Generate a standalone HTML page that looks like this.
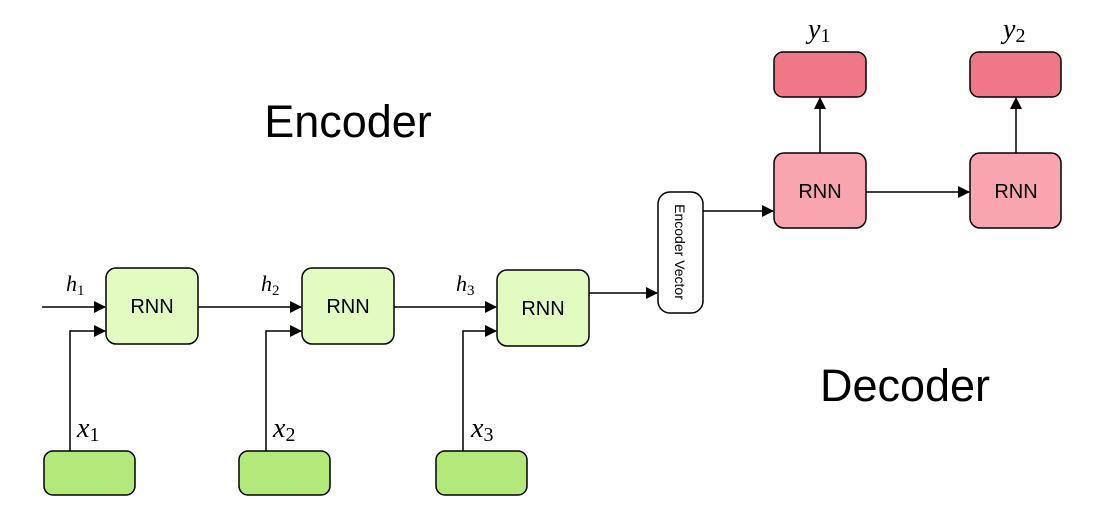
<!DOCTYPE html>
<html><head><meta charset="utf-8"><style>
html,body{margin:0;padding:0;background:#fff;}
svg{display:block;}
.l{stroke:#000;stroke-width:1.5;fill:none;}
.t{font-family:"Liberation Sans",sans-serif;}
.m{font-family:"Liberation Serif",serif;font-style:italic;}
</style></head><body>
<svg width="1101" height="510" viewBox="0 0 1101 510">
<defs><marker id="a" markerWidth="12" markerHeight="12" refX="11" refY="6" orient="auto" markerUnits="userSpaceOnUse"><path d="M0,0 L12,6 L0,12 z" fill="#000"/></marker></defs>
<text x="348" y="137" class="t" font-size="45" text-anchor="middle">Encoder</text>
<text x="905" y="401" class="t" font-size="45" text-anchor="middle">Decoder</text>
<g fill="#e2fbc0" stroke="#000" stroke-width="1.5">
<rect x="106" y="268" width="92" height="76" rx="10"/>
<rect x="302" y="268" width="92" height="76" rx="10"/>
<rect x="497" y="270" width="92" height="76" rx="10"/>
</g>
<g fill="#b3e87a" stroke="#000" stroke-width="1.5">
<rect x="44" y="451" width="91" height="44" rx="9"/>
<rect x="239" y="451" width="91" height="44" rx="9"/>
<rect x="436" y="451" width="91" height="44" rx="9"/>
</g>
<path class="l" d="M42,307 H105" marker-end="url(#a)"/>
<path class="l" d="M198,307 H301" marker-end="url(#a)"/>
<path class="l" d="M394,307 H496" marker-end="url(#a)"/>
<path class="l" d="M70,451 V331 H105" marker-end="url(#a)"/>
<path class="l" d="M266,451 V331 H301" marker-end="url(#a)"/>
<path class="l" d="M463,451 V331 H496" marker-end="url(#a)"/>
<path class="l" d="M589,293 H657" marker-end="url(#a)"/>
<rect x="658" y="192" width="45" height="121" rx="12" fill="#fff" stroke="#000" stroke-width="1.5"/>
<text class="t" font-size="14" text-anchor="middle" transform="translate(675,252) rotate(90)">Encoder Vector</text>
<path class="l" d="M703,211 H773" marker-end="url(#a)"/>
<g fill="#f9a5b0" stroke="#000" stroke-width="1.5">
<rect x="774" y="153" width="92" height="75" rx="10"/>
<rect x="970" y="153" width="91" height="75" rx="10"/>
</g>
<g fill="#ee7887" stroke="#000" stroke-width="1.5">
<rect x="774" y="52" width="92" height="45" rx="9"/>
<rect x="970" y="52" width="91" height="45" rx="9"/>
</g>
<path class="l" d="M866,192 H969" marker-end="url(#a)"/>
<path class="l" d="M820,153 V98" marker-end="url(#a)"/>
<path class="l" d="M1016,153 V98" marker-end="url(#a)"/>
<g class="t" font-size="20" text-anchor="middle">
<text x="152" y="313">RNN</text><text x="348" y="313">RNN</text><text x="543" y="315">RNN</text>
<text x="820" y="198">RNN</text><text x="1016" y="198">RNN</text>
</g>
<g class="m" font-size="22">
<text x="66" y="291">h<tspan font-style="normal" font-size="15" dy="4">1</tspan></text>
<text x="261" y="291">h<tspan font-style="normal" font-size="15" dy="4">2</tspan></text>
<text x="456" y="291">h<tspan font-style="normal" font-size="15" dy="4">3</tspan></text>
</g>
<g class="m" font-size="28">
<text x="77" y="437">x<tspan font-style="normal" font-size="20" dy="4">1</tspan></text>
<text x="273" y="437">x<tspan font-style="normal" font-size="20" dy="4">2</tspan></text>
<text x="471" y="437">x<tspan font-style="normal" font-size="20" dy="4">3</tspan></text>
<text x="808" y="38">y<tspan font-style="normal" font-size="20" dy="4">1</tspan></text>
<text x="1003" y="38">y<tspan font-style="normal" font-size="20" dy="4">2</tspan></text>
</g>
</svg>
</body></html>
